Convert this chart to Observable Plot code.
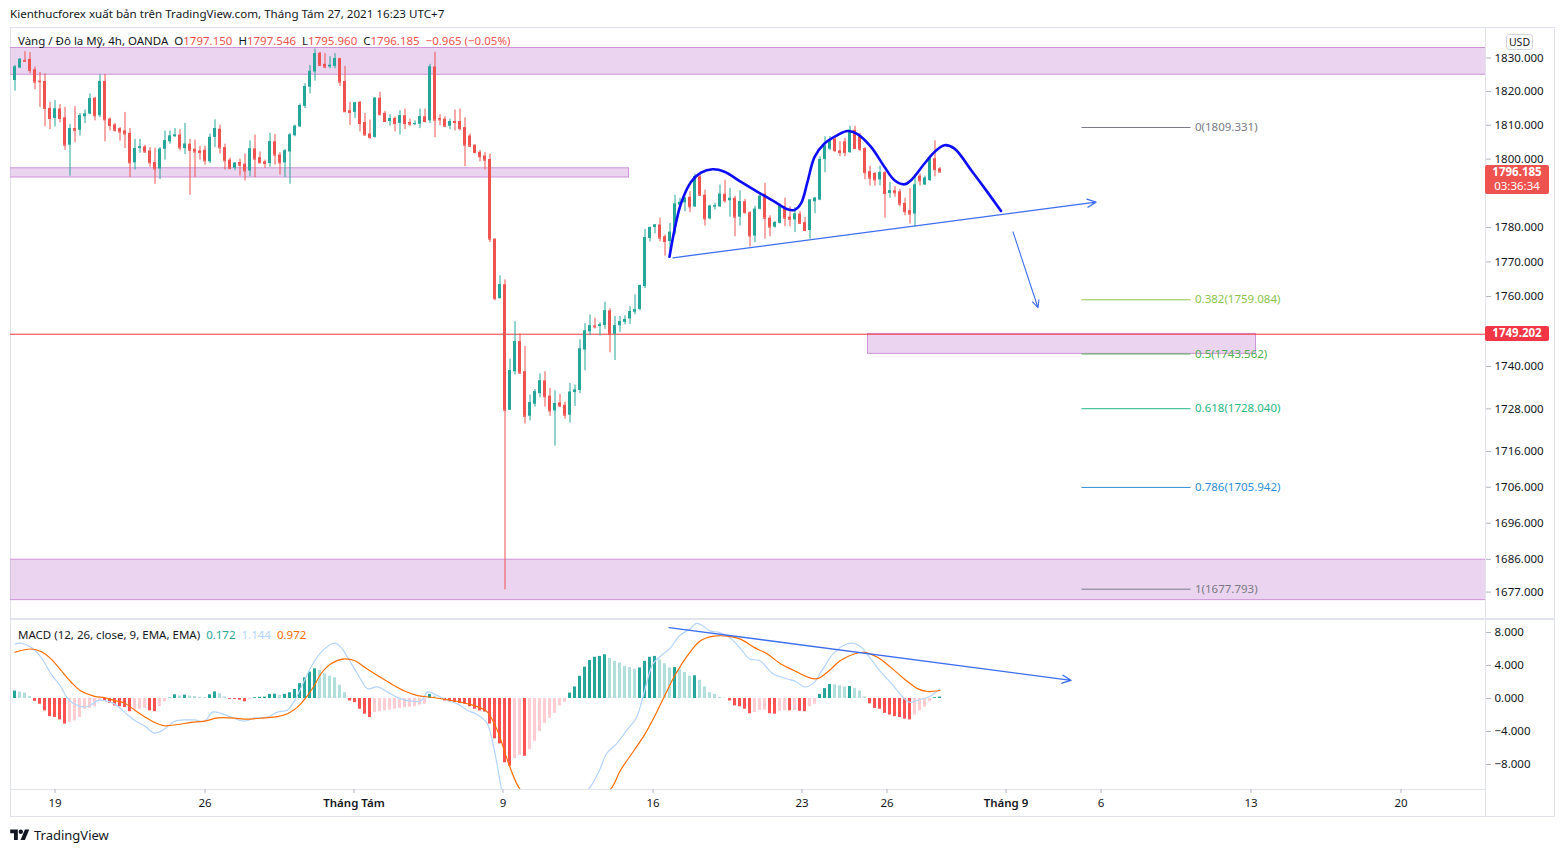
<!DOCTYPE html>
<html><head><meta charset="utf-8">
<script src="https://cdn.jsdelivr.net/npm/d3@7"></script>
<script src="https://cdn.jsdelivr.net/npm/@observablehq/plot@0.6"></script>
<style>
body{margin:0;background:#fff;}
#root{position:relative;width:1564px;height:852px;overflow:hidden;font-family:"Noto Sans","DejaVu Sans",sans-serif;color:#131722;}
.abs{position:absolute;}
.tag{position:absolute;left:1485px;width:64px;color:#fff;font-size:11.5px;font-weight:700;text-align:center;border-radius:2px;line-height:14px;}
</style></head>
<body><div id="root"></div>
<script>
// ---------------- DATA ----------------
const open = [1823.3,1827.0,1829.3,1829.6,1826.5,1823.1,1823.0,1815.0,1812.0,1814.8,1812.2,1804.1,1809.0,1808.5,1812.5,1813.3,1818.0,1812.8,1823.0,1811.8,
1810.1,1809.0,1808.3,1807.6,1798.9,1803.1,1803.6,1802.4,1799.0,1797.1,1802.9,1805.1,1806.6,1807.1,1803.1,1804.4,1802.9,1802.4,1802.6,1799.2,
1806.4,1808.8,1803.4,1799.7,1797.3,1799.0,1798.5,1796.5,1803.0,1800.4,1799.2,1798.7,1805.1,1801.2,1798.9,1802.1,1806.9,1809.5,1815.6,1821.3,
1825.8,1831.4,1828.1,1827.3,1827.5,1829.8,1823.0,1814.3,1813.8,1816.8,1810.8,1807.4,1806.4,1818.0,1813.5,1811.1,1812.0,1810.5,1812.8,1810.8,
1810.2,1810.3,1812.5,1811.3,1827.3,1812.0,1811.8,1809.7,1811.1,1811.1,1809.3,1806.8,1804.1,1802.0,1800.9,1799.9,1776.6,1759.4,1763.4,1727.6,
1738.5,1747.1,1738.5,1725.9,1729.3,1732.3,1735.9,1731.6,1727.4,1729.7,1729.0,1726.2,1732.6,1733.2,1744.7,1749.9,1751.6,1751.4,1751.7,1755.9,
1749.2,1751.6,1752.6,1753.6,1755.5,1756.3,1762.9,1776.8,1780.0,1780.7,1777.3,1775.9,1778.6,1786.5,1787.2,1788.8,1786.0,1794.8,1789.4,1782.5,
1786.0,1786.0,1789.7,1787.8,1788.5,1783.0,1787.5,1784.3,1777.5,1785.3,1789.7,1782.7,1780.1,1781.2,1786.0,1783.0,1782.2,1783.9,1781.4,1779.1,
1787.5,1788.0,1799.9,1802.9,1805.8,1802.4,1805.1,1801.9,1808.5,1806.6,1803.1,1796.3,1795.8,1793.9,1796.0,1789.9,1790.7,1790.4,1787.0,1784.9,
1783.9,1795.0,1792.4,1793.7,1800.1,1797.15];
const high = [1827.8,1829.8,1831.9,1831.6,1827.3,1825.7,1825.3,1816.8,1817.3,1816.1,1815.3,1810.2,1815.5,1813.5,1814.5,1819.3,1818.3,1825.0,1825.1,1812.2,
1810.5,1809.3,1813.8,1809.0,1805.8,1805.8,1804.1,1803.4,1803.2,1803.4,1808.3,1808.3,1809.0,1808.7,1810.5,1805.8,1805.6,1803.8,1803.8,1807.4,
1811.6,1810.0,1804.4,1800.3,1799.0,1800.0,1801.5,1805.4,1807.1,1802.1,1799.7,1807.6,1807.3,1801.9,1802.9,1807.6,1810.0,1816.3,1822.3,1827.8,
1832.7,1831.7,1831.3,1830.4,1831.3,1829.9,1827.5,1816.8,1816.8,1817.0,1813.5,1811.5,1818.2,1819.8,1814.1,1813.1,1812.5,1814.3,1814.8,1811.8,
1811.3,1814.8,1814.8,1828.1,1831.7,1813.1,1812.5,1811.8,1814.5,1814.8,1812.2,1807.4,1804.2,1802.6,1801.9,1801.5,1776.7,1766.0,1764.8,1742.1,
1752.8,1749.3,1745.7,1731.9,1733.5,1737.9,1738.5,1733.8,1733.1,1732.1,1729.9,1735.2,1734.7,1747.6,1752.2,1754.7,1753.8,1752.5,1758.4,1756.5,
1754.3,1754.3,1754.5,1757.1,1760.5,1763.3,1779.4,1780.1,1780.8,1782.7,1777.8,1781.2,1789.4,1788.5,1788.8,1790.4,1795.6,1795.3,1790.9,1786.5,
1787.1,1792.4,1793.8,1791.4,1789.1,1790.7,1788.2,1784.6,1786.2,1789.9,1792.9,1783.4,1781.7,1786.8,1788.5,1786.0,1785.8,1784.6,1782.9,1788.0,
1788.8,1800.7,1806.6,1806.6,1806.6,1805.1,1806.1,1809.7,1809.7,1807.6,1803.4,1797.9,1796.0,1797.9,1796.3,1793.1,1791.9,1791.1,1788.5,1791.3,
1795.3,1795.6,1795.0,1800.7,1805.4,1797.546];
const low = [1820.1,1826.8,1829.0,1825.3,1820.5,1815.3,1809.5,1808.7,1809.5,1810.7,1802.6,1795.0,1804.8,1806.8,1810.5,1813.1,1811.3,1812.2,1805.1,1808.3,
1807.9,1805.3,1803.1,1794.6,1796.8,1801.7,1801.7,1797.6,1792.6,1794.0,1799.7,1804.4,1806.4,1802.4,1801.4,1789.4,1794.6,1799.7,1798.2,1798.7,
1803.4,1801.5,1796.8,1796.8,1796.6,1795.0,1793.6,1794.8,1794.6,1798.6,1797.3,1797.6,1798.2,1795.3,1794.6,1792.6,1806.6,1809.3,1814.9,1819.3,
1823.1,1827.5,1826.8,1826.8,1826.8,1821.5,1813.8,1809.9,1812.0,1808.0,1806.9,1805.8,1806.2,1813.0,1810.8,1809.7,1808.0,1807.1,1808.7,1809.7,
1809.9,1809.0,1810.7,1810.5,1806.3,1809.9,1809.3,1808.7,1808.3,1808.3,1797.8,1803.4,1801.7,1799.2,1796.8,1775.6,1758.8,1759.3,1677.6,1727.5,
1737.6,1737.9,1723.7,1724.6,1728.5,1731.1,1728.5,1725.9,1717.5,1728.3,1725.1,1724.0,1728.7,1732.3,1738.8,1748.8,1750.7,1748.7,1750.6,1743.9,
1741.7,1749.7,1751.9,1752.0,1754.8,1755.9,1762.3,1775.8,1778.1,1775.8,1771.7,1771.5,1777.8,1785.3,1784.6,1784.3,1785.8,1789.1,1780.4,1782.2,
1785.1,1785.8,1787.1,1783.0,1777.3,1780.4,1783.9,1774.3,1775.6,1785.1,1776.6,1777.3,1779.8,1781.0,1780.2,1780.2,1778.5,1780.9,1778.8,1776.6,
1784.0,1787.8,1796.0,1802.5,1801.9,1800.7,1800.7,1801.7,1802.8,1802.2,1793.9,1792.1,1792.1,1792.1,1782.7,1788.5,1788.8,1786.0,1783.4,1781.0,
1780.1,1792.1,1792.2,1793.4,1794.8,1795.96];
const close = [1827.3,1829.6,1829.0,1826.3,1822.8,1822.9,1815.0,1812.0,1814.8,1812.0,1804.1,1809.0,1808.5,1812.8,1813.3,1817.9,1812.8,1823.0,1811.6,1809.9,
1808.5,1808.0,1807.4,1798.9,1803.1,1803.6,1802.1,1798.9,1797.1,1802.9,1805.4,1806.8,1807.1,1803.3,1804.4,1802.6,1802.1,1801.9,1799.5,1806.4,
1809.0,1803.3,1799.5,1797.3,1798.8,1798.2,1796.5,1803.0,1800.0,1798.9,1798.7,1805.1,1801.2,1798.9,1802.4,1807.1,1809.7,1815.8,1821.5,1826.0,
1831.3,1827.8,1827.3,1827.8,1829.8,1822.8,1814.0,1813.8,1816.6,1810.5,1807.1,1806.4,1818.0,1813.1,1811.1,1812.0,1810.5,1812.8,1810.5,1810.3,
1810.5,1812.5,1811.1,1827.3,1811.5,1811.6,1809.7,1811.1,1810.8,1809.0,1804.1,1803.8,1801.9,1800.7,1799.7,1776.6,1759.4,1763.4,1727.6,1738.8,
1747.1,1738.1,1725.9,1729.7,1732.8,1735.9,1731.4,1727.4,1729.5,1728.8,1726.2,1732.7,1733.3,1745.0,1750.1,1751.6,1751.3,1751.9,1755.9,1749.2,
1751.6,1752.8,1753.4,1755.7,1756.2,1763.2,1777.0,1780.0,1780.7,1776.9,1775.9,1778.6,1786.8,1787.3,1788.5,1786.0,1794.8,1789.4,1782.5,1786.2,
1786.3,1789.7,1787.8,1788.5,1783.0,1787.5,1784.3,1777.5,1785.3,1789.1,1782.7,1780.1,1781.4,1786.2,1782.7,1782.4,1783.9,1781.2,1779.1,1788.0,
1788.5,1799.9,1803.8,1805.6,1802.5,1801.9,1801.9,1808.5,1803.1,1802.9,1796.0,1794.4,1793.9,1796.0,1789.9,1790.7,1790.1,1786.8,1784.6,1783.9,
1792.4,1793.6,1794.4,1800.1,1796.9,1796.185];

// MACD histogram, one value per bar
const macdHist = [0.9,0.77,0.65,0.25,-0.35,-0.7,-1.5,-2.2,-2.3,-2.6,-3.1,-2.9,-2.7,-2.3,-1.3,-1.2,-1.0,-0.2,-0.3,-0.6,
-0.9,-1.0,-1.1,-1.6,-1.4,-1.3,-1.2,-1.5,-1.6,-1.0,-0.4,0.05,0.45,0.3,0.4,0.3,0.25,0.15,0.1,0.45,
0.8,0.6,0.2,-0.1,-0.12,-0.2,-0.4,-0.1,0.1,0.15,0.17,0.5,0.52,0.4,0.5,0.7,1.1,1.8,2.5,3.2,
3.6,3.4,3.0,2.7,2.5,1.6,0.7,-0.3,-0.5,-1.3,-1.9,-2.3,-1.7,-1.6,-1.5,-1.4,-1.3,-1.2,-1.1,-1.05,
-1.0,-0.8,-0.7,0.5,0.3,-0.1,-0.3,-0.4,-0.5,-0.6,-0.7,-1.0,-1.3,-1.5,-1.65,-3.1,-4.9,-5.5,-7.8,-8.2,
-7.3,-6.9,-7.0,-6.2,-5.2,-4.0,-3.0,-2.4,-1.8,-0.9,-0.45,0.65,1.4,2.7,3.8,4.6,5.0,5.1,5.3,4.85,
4.5,4.3,3.9,3.75,3.55,3.7,4.5,5.0,5.1,4.7,4.2,3.7,3.75,3.5,3.15,2.7,2.75,2.2,1.4,0.7,
0.5,0.15,0.05,-0.3,-0.9,-1.0,-1.3,-1.85,-1.7,-1.45,-1.4,-1.85,-1.9,-1.55,-1.5,-1.5,-1.45,-1.55,-1.6,-1.0,
-0.7,0.5,1.2,1.7,1.65,1.55,1.4,1.45,1.2,0.9,0.2,-0.65,-1.2,-1.3,-1.8,-2.0,-2.2,-2.3,-2.5,-2.6,
-2.0,-1.5,-1.05,-0.4,0.1,0.172];

// MACD line (bar position, value)
const macdLineIdx = [0,1.2,3.2,5.2,7.2,9.2,10.5,12.5,14.5,16.5,17.9,19.9,21.9,23.9,25.9,27.9,29.9,31.9,33.9,35.9,37.9,39.5,41.2,43.2,45.9,47.9,50.5,52.5,54.5,55.9,57.9,59.2,61.2,63.9,65.2,66.5,68.5,70.5,72.5,74.5,76.5,78.5,81.2,82.5,84.5,86.5,88.5,90.5,92.3,94.3,95.6,97.3,99.3,101.3,103.3,105.3,107.3,109.3,111.3,113.3,115.3,116.9,118.3,120.3,122.3,124.3,125.3,126.3,127.6,129.6,130.9,132.9,134.9,136.3,137.6,138.9,140.9,142.9,144.9,146.9,148.9,151.6,154.3,156.3,157.9,159.6,161.6,163.6,165.6,167.6,169.3,170.9,172.9,175.6,177.6,178.9,180.9,182.9,185];
const macdLineVal = [6.6,6.7,6.2,5.0,3.0,1.4,0,-0.85,-1.0,-0.25,-0.25,-0.65,-1.65,-2.65,-3.3,-4.2,-3.7,-2.75,-2.6,-2.6,-2.75,-1.65,-1.8,-2.25,-2.75,-2.35,-2.25,-1.65,-1.4,-0.25,2.2,3.8,5.6,6.7,6.2,5.0,3.0,1.2,1.4,0.8,0.1,-0.25,-0.3,0.8,0.35,-0.25,-0.65,-1.45,-1.9,-2.9,-5.5,-11,-17,-18.5,-18,-17,-16,-14.5,-13,-12,-10.5,-8.7,-6.7,-5.5,-3.9,-2.3,-0.45,1.8,4.2,5.4,6.0,7.6,8.4,9.1,8.8,8.2,8.0,7.4,6.2,4.8,4.6,3.0,2.4,2.0,1.4,1.8,3.6,5.4,6.4,6.7,6.2,5.0,3.4,1.6,0.15,-0.45,-0.15,0.25,1.144];
// Signal line (bar position, value)
const signalIdx = [0,3.2,5.2,7.2,9.2,11.2,13.2,15.9,17.9,19.9,21.9,23.9,25.9,27.9,29.9,32.5,35.2,37.9,40.5,43.2,45.9,49.9,52.5,54.5,56.5,58.5,59.9,61.2,63.2,65.9,67.9,69.9,72.5,75.2,77.9,80.5,83.2,86.5,89.2,91.5,93.3,94.5,96.5,98.5,100.5,102.3,104.3,106.3,108.3,110.3,112.3,114.3,116.3,119.1,121.1,123.8,125.8,127.8,129.8,131.8,134.5,137.1,139.8,142.5,145.1,147.8,150.5,153.1,155.8,158.5,160.5,162.5,165.1,167.8,169.8,172.5,175.1,177.8,180.5,182.5,185];
const signalVal = [5.6,6.0,5.7,4.8,3.4,2.0,0.9,0.25,0.1,-0.25,-0.55,-1.4,-2.2,-2.9,-3.3,-3.15,-2.9,-2.75,-2.35,-2.35,-2.5,-2.35,-2.2,-1.85,-1.05,0.35,1.6,3.0,4.2,4.8,4.6,3.8,2.8,1.8,0.9,0.35,0.15,-0.15,-0.45,-0.8,-1.2,-1.65,-3.9,-7.5,-10.5,-12,-13,-13.5,-13.8,-13.6,-13,-12.4,-11.8,-11,-8.7,-6.3,-4.5,-2.3,0.15,2.6,5.2,7.0,7.55,7.55,7.2,6.2,5.4,4.2,3.4,2.6,2.4,3.2,4.6,5.4,5.6,5.0,3.8,2.4,1.2,0.85,0.972];

// Support / resistance zones (bar start, bar end, low, high)
const zoneStart = [-5, -5, 170.6, -5];
const zoneEnd   = [300, 122.8, 248.2, 300];
const zoneLow   = [1825.0, 1794.6, 1743.6, 1674.8];
const zoneHigh  = [1833.0, 1797.3, 1749.3, 1685.9];

const redLevel = 1749.202;
const lastPrice = 1796.185;
const countdown = "03:36:34";

// Fibonacci retracement
const fibLevels = ["0", "0.382", "0.5", "0.618", "0.786", "1"];
const fibPrices = [1809.331, 1759.084, 1743.562, 1728.040, 1705.942, 1677.793];
const fibColors = ["#787b86", "#8bc34a", "#4caf50", "#26b883", "#2f8fd6", "#787b86"];
const fibFrom = 213.4, fibTo = 235.2, fibLabelAt = 236;

// Head & shoulders outline (bar position, price)
const hsIdx   = [130.9,131.9,133.2,135.2,137.2,139.5,141.9,145.2,148.5,151.9,154.5,155.9,157.2,158.5,159.9,161.9,164.5,166.5,168.5,171.2,173.9,175.9,177.9,179.2,181.9,183.9,185.9,187.9,191.2,194.2,197.2];
const hsPrice = [1771.5,1779.3,1787.0,1793.3,1796.0,1797.0,1796.3,1793.3,1790.4,1787.5,1785.3,1785.1,1787.0,1793.3,1800.6,1804.6,1807.1,1808.3,1807.4,1803.6,1797.7,1793.8,1792.6,1793.8,1798.7,1802.1,1804.1,1803.1,1796.8,1790.9,1784.8];
// Neckline arrow, down arrow, MACD trendline arrow: [barFrom, valueFrom, barTo, valueTo]
const neckline = [131.6, 1771.2, 216.2, 1787.4];
const downArrow = [199.6, 1778.7, 204.6, 1756.8];
const macdTrend = [130.8, 8.6, 211.2, 2.2];

// Axes (1790 sits behind the last-price tag, as in the source)
const priceTicks = [1830,1820,1810,1800,1780,1770,1760,1740,1728,1716,1706,1696,1686,1677];
const macdTicks = [8, 4, 0, -4, -8];
const dayTickAt = [8, 38, 97.6, 127.6, 157.4, 174.4, 217.2, 247.2, 277.2];
const dayTickLabel = ["19", "26", "9", "16", "23", "26", "6", "13", "20"];
const monthTickAt = [67.8, 198.2];
const monthTickLabel = ["Tháng Tám", "Tháng 9"];

// ---------------- BUILD ----------------
const FONT = '"Noto Sans","DejaVu Sans",sans-serif';
const UP = "#26a69a", DOWN = "#ef5350";
const root = document.getElementById("root");
function add(html){ root.insertAdjacentHTML("beforeend", html); }

const candles = close.map((c, i) => ({i, o: open[i], h: high[i], l: low[i], c}));
const candleColor = d => d.c >= d.o ? UP : DOWN;
const zones = zoneStart.map((s, k) => ({s, e: zoneEnd[k], lo: zoneLow[k], hi: zoneHigh[k]}));
const fib = fibLevels.map((lv, k) => ({lv, p: fibPrices[k], col: fibColors[k]}));
const hs = hsIdx.map((x, k) => ({x, y: hsPrice[k]}));
const hist = macdHist.map((h, i) => {
  const p = i > 0 ? macdHist[i-1] : h;
  const col = h >= 0 ? (h >= p ? "#26a69a" : "#b2dfdb") : (h <= p ? "#ff5252" : "#ffcdd2");
  return {i, h, col};
});
const macdPts = macdLineIdx.map((x, k) => ({x, y: macdLineVal[k]}));
const sigPts = signalIdx.map((x, k) => ({x, y: signalVal[k]}));
const seg = a => [{x1: a[0], y1: a[1], x2: a[2], y2: a[3]}];

// frame / borders
add(`<div class="abs" style="left:10px;top:27px;width:1543px;height:788px;border:1px solid #e0e3eb;"></div>`);
add(`<div class="abs" style="left:1485px;top:28px;width:1px;height:788px;background:#e0e3eb;"></div>`);
add(`<div class="abs" style="left:10px;top:618px;width:1544px;height:2px;background:#e0e3eb;"></div>`);
add(`<div class="abs" style="left:10px;top:789px;width:1476px;height:1px;background:#e0e3eb;"></div>`);

// header
add(`<div class="abs" style="left:10px;top:6px;font-size:11.6px;white-space:nowrap;">Kienthucforex xuất bản trên TradingView.com, Tháng Tám 27, 2021 16:23 UTC+7</div>`);

const xDom = {domain: [-0.9, 294.1], range: [0, 1475]};

const price = Plot.plot({
  width: 1544, height: 590,
  marginTop: 0, marginBottom: 0, marginLeft: 0, marginRight: 69,
  style: {fontFamily: FONT, fontSize: "11.5px", color: "#131722", background: "transparent", overflow: "visible"},
  x: {...xDom, axis: null},
  y: {type: "log", domain: [1677.793, 1830], range: [560.7, 29.5]},
  color: {type: "identity"},
  marks: [
    Plot.rect(zones, {x1: "s", x2: "e", y1: "lo", y2: "hi", fill: "#ce93d8", fillOpacity: 0.4, stroke: "#ce93d8", strokeWidth: 1, clip: true}),
    Plot.ruleY([redLevel], {stroke: "#f23645", strokeWidth: 1}),
    Plot.ruleY(fib, {y: "p", x1: fibFrom, x2: fibTo, stroke: "col", strokeWidth: 1}),
    Plot.text(fib, {y: "p", x: fibLabelAt, text: d => `${d.lv}(${d.p.toFixed(3)})`, fill: "col", textAnchor: "start", fontSize: 11.5}),
    Plot.ruleX(candles, {x: "i", y1: "l", y2: "h", stroke: candleColor, strokeWidth: 1}),
    Plot.rect(candles, {x1: d => d.i - 0.3, x2: d => d.i + 0.3, y1: "o", y2: "c", fill: candleColor}),
    Plot.ruleY(candles, {y: "c", x1: d => d.i - 0.3, x2: d => d.i + 0.3, stroke: candleColor}),
    Plot.line(hs, {x: "x", y: "y", stroke: "#0d0dfa", strokeWidth: 2.6, curve: "catmull-rom"}),
    Plot.arrow(seg(neckline), {x1: "x1", y1: "y1", x2: "x2", y2: "y2", stroke: "#3d6ef0", strokeWidth: 1.3, headLength: 11, headAngle: 50}),
    Plot.arrow(seg(downArrow), {x1: "x1", y1: "y1", x2: "x2", y2: "y2", stroke: "#3d6ef0", strokeWidth: 1.1, headLength: 11, headAngle: 50}),
    Plot.axisY({anchor: "right", ticks: priceTicks, tickFormat: d => d.toFixed(3), tickSize: 5, tickPadding: 4, stroke: "#b2b5be", fill: "#131722", fontSize: 11.5}),
    Plot.axisY({anchor: "right", ticks: [1790], tickFormat: () => "", tickSize: 5, stroke: "#b2b5be"})
  ]
});
const pw = document.createElement("div");
pw.className = "abs"; pw.style.left = "10px"; pw.style.top = "28px";
pw.appendChild(price); root.appendChild(pw);

const macd = Plot.plot({
  width: 1544, height: 196,
  marginTop: 0, marginBottom: 27, marginLeft: 0, marginRight: 69,
  style: {fontFamily: FONT, fontSize: "11.5px", color: "#131722", background: "transparent", overflow: "visible"},
  x: xDom,
  y: {domain: [-8, 8], range: [144, 12]},
  color: {type: "identity"},
  marks: [
    Plot.rect(hist, {x1: d => d.i - 0.3, x2: d => d.i + 0.3, y1: 0, y2: "h", fill: "col", clip: true}),
    Plot.line(macdPts, {x: "x", y: "y", stroke: "#b3d4fc", strokeWidth: 1.2, curve: "catmull-rom", clip: true}),
    Plot.line(sigPts, {x: "x", y: "y", stroke: "#ff6d00", strokeWidth: 1.2, curve: "catmull-rom", clip: true}),
    Plot.arrow(seg(macdTrend), {x1: "x1", y1: "y1", x2: "x2", y2: "y2", stroke: "#3d6ef0", strokeWidth: 1.3, headLength: 11, headAngle: 50}),
    Plot.axisY({anchor: "right", ticks: macdTicks, tickFormat: d => (d < 0 ? "−" : "") + Math.abs(d).toFixed(3), tickSize: 5, tickPadding: 4, stroke: "#b2b5be", fill: "#131722", fontSize: 11.5}),
    Plot.axisX({anchor: "bottom", ticks: dayTickAt, tickFormat: d => dayTickLabel[dayTickAt.indexOf(d)], tickSize: 4, tickPadding: 5, stroke: "#b2b5be", fill: "#131722", fontSize: 11.5}),
    Plot.axisX({anchor: "bottom", ticks: monthTickAt, tickFormat: d => monthTickLabel[monthTickAt.indexOf(d)], tickSize: 4, tickPadding: 5, stroke: "#b2b5be", fill: "#131722", fontSize: 11.5, fontWeight: 600})
  ]
});
const mw = document.createElement("div");
mw.className = "abs"; mw.style.left = "10px"; mw.style.top = "620px";
mw.appendChild(macd); root.appendChild(mw);

// legends
add(`<div class="abs" style="left:18px;top:33px;font-size:11.5px;white-space:nowrap;">Vàng / Đô la Mỹ, 4h, OANDA&nbsp; O<span style="color:#ef5350">${open[open.length-1].toFixed(3)}</span>&nbsp; H<span style="color:#ef5350">${high[high.length-1].toFixed(3)}</span>&nbsp; L<span style="color:#ef5350">${low[low.length-1].toFixed(3)}</span>&nbsp; C<span style="color:#ef5350">${close[close.length-1].toFixed(3)}</span>&nbsp; <span style="color:#ef5350">−0.965 (−0.05%)</span></div>`);
add(`<div class="abs" style="left:18px;top:627px;font-size:11.5px;white-space:nowrap;">MACD (12, 26, close, 9, EMA, EMA)&nbsp; <span style="color:#26a69a">${macdHist[macdHist.length-1].toFixed(3)}</span>&nbsp; <span style="color:#b3d4fc">${macdLineVal[macdLineVal.length-1].toFixed(3)}</span>&nbsp; <span style="color:#ff6d00">${signalVal[signalVal.length-1].toFixed(3)}</span></div>`);

// USD box
add(`<div class="abs" style="left:1506px;top:34px;width:25px;height:14px;border:1px solid #d1d4dc;border-radius:3px;font-size:10.5px;line-height:14px;text-align:center;background:#fff;">USD</div>`);

// price tags positioned with the plot's own y scale
const ys = price.scale("y");
const yLast = 28 + ys.apply(lastPrice);
const yRed = 28 + ys.apply(redLevel);
add(`<div class="tag" style="top:${yLast-6.5}px;height:29px;background:#ef5350;">${lastPrice.toFixed(3)}<br><span style="font-weight:400">${countdown}</span></div>`);
add(`<div class="tag" style="top:${yRed-7.5}px;height:15px;background:#f23645;">${redLevel.toFixed(3)}</div>`);

// footer
add(`<div class="abs" style="left:10px;top:826px;display:flex;align-items:center;font-size:13px;white-space:nowrap;">
<svg width="20" height="12" viewBox="0 0 36 22" style="margin-right:4px"><path d="M14 20H7V8H0V1h14z" fill="#131722"/><circle cx="19.5" cy="5" r="4" fill="#131722"/><path d="M27 20h-8l8-19h8z" fill="#131722"/></svg>TradingView</div>`);
</script>
</body></html>
